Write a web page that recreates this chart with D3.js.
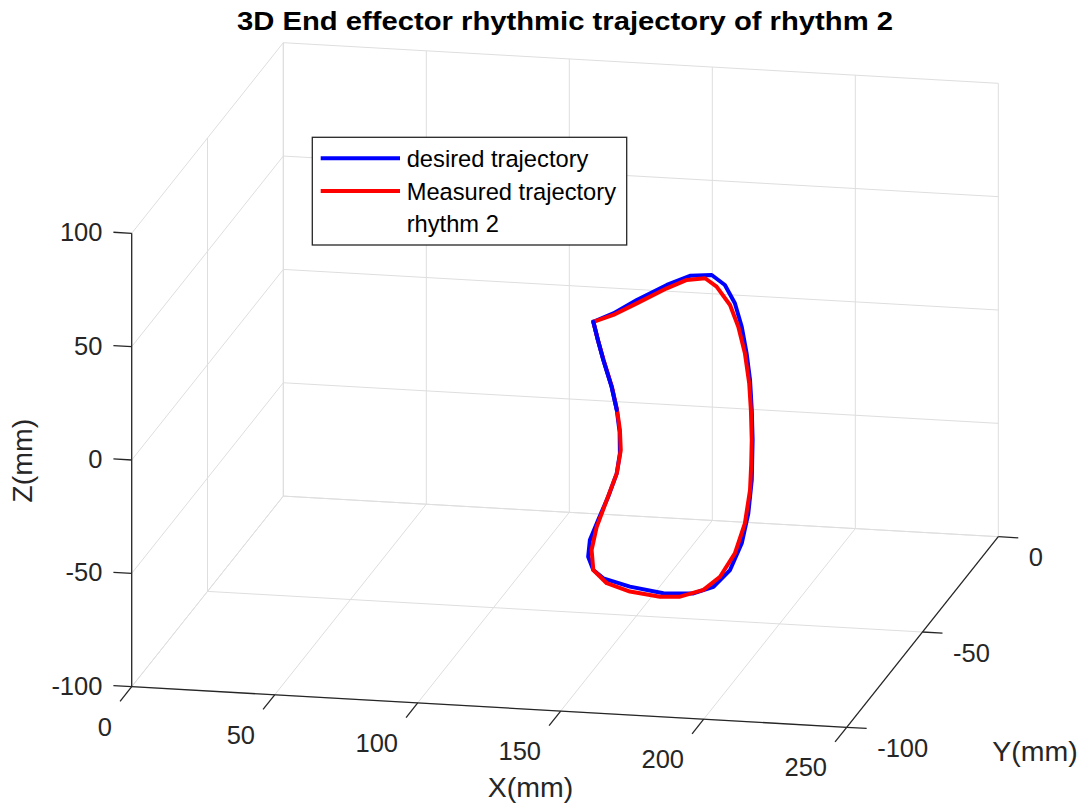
<!DOCTYPE html>
<html><head><meta charset="utf-8">
<script src="https://cdn.jsdelivr.net/npm/d3@7"></script>
<style>html,body{margin:0;padding:0;background:#fff;}svg{display:block;}</style>
</head><body>
<svg id="chart" width="1083" height="805"></svg>
<script>
// ---- data ----
const xTicks = [0, 50, 100, 150, 200, 250];
const yTicks = [-100, -50, 0];
const zTicks = [-100, -50, 0, 50, 100];
const xDomain = [0, 250];
const yDomain = [-100, 0];
const zDomain = [-100, 100];

const desiredX = [134.9,141.9,150.1,160.6,168.7,176.3,180.9,184.4,186.8,188.5,189.7,190.3,190.6,190.3,189.1,186.8,182.7,176.9,169.9,159.4,147.7,138.4,134.9,133.1,133.7,136.6,140.1,143.1,144.2,144.1,143.1,141.3,138.4,136.5,134.9];
const desiredY = [-50,-50,-50,-50,-50,-50,-50,-50,-50,-50,-50,-50,-50,-50,-50,-50,-50,-50,-50,-50,-50,-50,-50,-50,-50,-50,-50,-50,-50,-50,-50,-50,-50,-50,-50];
const desiredZ = [28.6,32.8,39.3,46.7,51.3,52.2,48.1,40.3,30.1,18.5,6.8,-6.4,-19.5,-37.2,-52.0,-65.4,-77.5,-85.3,-88.7,-89.4,-87.3,-84.3,-80.9,-75.2,-67.8,-58.7,-48.2,-37.7,-28.8,-19.4,-9.7,0.4,12.0,20.7,28.6];

const measuredX = [134.9,141.9,150.1,160.6,167.6,174.0,178.0,182.7,185.6,187.9,189.4,190.0,190.3,190.1,189.7,187.9,184.4,179.2,173.4,165.2,158.2,147.7,139.6,134.9,134.3,136.1,139.6,143.1,144.5,144.2,143.2,141.4,138.5,136.5,134.9];
const measuredY = [-50,-50,-50,-50,-50,-50,-50,-50,-50,-50,-50,-50,-50,-50,-50,-50,-50,-50,-50,-50,-50,-50,-50,-50,-50,-50,-50,-50,-50,-50,-50,-50,-50,-50,-50];
const measuredZ = [28.6,32.1,37.8,45.2,49.4,50.6,47.2,39.4,30.0,18.5,5.4,-6.4,-19.6,-30.6,-41.7,-56.5,-70.0,-80.7,-86.9,-90.5,-91.0,-89.5,-86.4,-80.9,-72.1,-61.7,-49.7,-37.7,-27.3,-18.5,-9.7,0.4,12.0,20.7,28.6];

const legendLabels = ["desired trajectory", "Measured trajectory", "rhythm 2"];
const titleText = "3D End effector rhythmic trajectory of rhythm 2";

// ---- layout ----
const FONT = "'Liberation Sans', Arial, Helvetica, sans-serif";
const AX = "#262626", GRID = "#dedede";
const origin = [131.7, 686.7];
const ex = [715, 40.6], ey = [151.6, -190.6], ez = [0, -453.4];
const xs = d3.scaleLinear().domain(xDomain).range([0, 1]);
const ys = d3.scaleLinear().domain(yDomain).range([0, 1]);
const zs = d3.scaleLinear().domain(zDomain).range([0, 1]);
function P(x, y, z) {
  const a = xs(x), b = ys(y), c = zs(z);
  return [origin[0] + a*ex[0] + b*ey[0] + c*ez[0], origin[1] + a*ex[1] + b*ey[1] + c*ez[1]];
}
function unit(v){const l=Math.hypot(v[0],v[1]);return [v[0]/l,v[1]/l];}

const svg = d3.select("#chart");
svg.append("rect").attr("width",1083).attr("height",805).attr("fill","#fff");

function seg(g, p, q, color, w) {
  g.append("line").attr("x1",p[0]).attr("y1",p[1]).attr("x2",q[0]).attr("y2",q[1])
   .attr("stroke",color).attr("stroke-width",w);
}

// grid
const grid = svg.append("g");
const [x0,x1] = xDomain, [y0,y1] = yDomain, [z0,z1] = zDomain;
xTicks.forEach(x => { seg(grid, P(x,y1,z0), P(x,y1,z1), GRID, 1); seg(grid, P(x,y0,z0), P(x,y1,z0), GRID, 1); });
zTicks.forEach(z => { seg(grid, P(x0,y1,z), P(x1,y1,z), GRID, 1); seg(grid, P(x0,y0,z), P(x0,y1,z), GRID, 1); });
yTicks.forEach(y => { seg(grid, P(x0,y,z0), P(x0,y,z1), GRID, 1); seg(grid, P(x0,y,z0), P(x1,y,z0), GRID, 1); });

// axes
const axes = svg.append("g");
seg(axes, P(x0,y0,z0), P(x1,y0,z0), AX, 1.3);
seg(axes, P(x1,y0,z0), P(x1,y1,z0), AX, 1.3);
seg(axes, P(x0,y0,z0), P(x0,y0,z1), AX, 1.3);

const uY = unit(ey), uX = unit(ex);
const tickFont = 25.5;
// X ticks (point -Y)
xTicks.forEach(x => {
  const p = P(x,y0,z0), q = [p[0]-uY[0]*18.7, p[1]-uY[1]*18.7];
  seg(axes, p, q, AX, 1.3);
  axes.append("text").attr("x", q[0]-8).attr("y", q[1]+34.5).attr("text-anchor","end")
    .attr("font-family",FONT).attr("font-size",tickFont).attr("fill",AX).text(x);
});
// Y ticks (point +X)
yTicks.forEach(y => {
  const p = P(x1,y,z0), q = [p[0]+uX[0]*20, p[1]+uX[1]*20];
  seg(axes, p, q, AX, 1.3);
  axes.append("text").attr("x", q[0]+10.5).attr("y", q[1]+28.5).attr("text-anchor","start")
    .attr("font-family",FONT).attr("font-size",tickFont).attr("fill",AX).text(y);
});
// Z ticks (point -X)
zTicks.forEach(z => {
  const p = P(x0,y0,z), q = [p[0]-uX[0]*18.3, p[1]-uX[1]*18.3];
  seg(axes, p, q, AX, 1.3);
  axes.append("text").attr("x", q[0]-11).attr("y", q[1]+9).attr("text-anchor","end")
    .attr("font-family",FONT).attr("font-size",tickFont).attr("fill",AX).text(z);
});

// axis labels
const labFont = 28.5;
svg.append("text").attr("x",530.5).attr("y",797).attr("text-anchor","middle")
  .attr("font-family",FONT).attr("font-size",labFont).attr("fill",AX).text("X(mm)");
svg.append("text").attr("x",1035).attr("y",760.5).attr("text-anchor","middle")
  .attr("font-family",FONT).attr("font-size",labFont).attr("fill",AX).text("Y(mm)");
svg.append("text").attr("transform","translate(31.7,460.8) rotate(-90)").attr("text-anchor","middle")
  .attr("font-family",FONT).attr("font-size",labFont).attr("fill",AX).text("Z(mm)");

// trajectories
const line = d3.line().x(d => P(d[0],d[1],d[2])[0]).y(d => P(d[0],d[1],d[2])[1]).curve(d3.curveLinear);
const desired = desiredX.map((x,i) => [x, desiredY[i], desiredZ[i]]);
const measured = measuredX.map((x,i) => [x, measuredY[i], measuredZ[i]]);
const traj = svg.append("g").attr("fill","none").attr("stroke-linejoin","round").attr("stroke-linecap","round");
traj.append("path").attr("d", line(desired)).attr("stroke","#0000ff").attr("stroke-width",4);
traj.append("path").attr("d", line(measured)).attr("stroke","#ff0000").attr("stroke-width",4);
// front-most part of desired path (upper-left side) drawn on top
traj.append("path").attr("d", line(desired.slice(30))).attr("stroke","#0000ff").attr("stroke-width",4);

// legend
const lg = svg.append("g");
lg.append("rect").attr("x",312.3).attr("y",137.3).attr("width",314.4).attr("height",107.7)
  .attr("fill","#fff").attr("stroke",AX).attr("stroke-width",1.3);
const legColors = ["#0000ff", "#ff0000", null];
const legY = [166.7, 199.5, 232.3];
legendLabels.forEach((t,i) => {
  if (legColors[i]) lg.append("line").attr("x1",320.7).attr("x2",400).attr("y1",legY[i]-8.4).attr("y2",legY[i]-8.4)
    .attr("stroke",legColors[i]).attr("stroke-width",4);
  lg.append("text").attr("x",406.7).attr("y",legY[i]).attr("font-family",FONT).attr("font-size",23.7)
    .attr("fill","#000").text(t);
});

// title
svg.append("text").attr("x",565).attr("y",30).attr("text-anchor","middle")
  .attr("font-family",FONT).attr("font-size",26).attr("font-weight","bold").attr("fill","#000")
  .attr("textLength",656).attr("lengthAdjust","spacingAndGlyphs").text(titleText);
</script>
</body></html>
